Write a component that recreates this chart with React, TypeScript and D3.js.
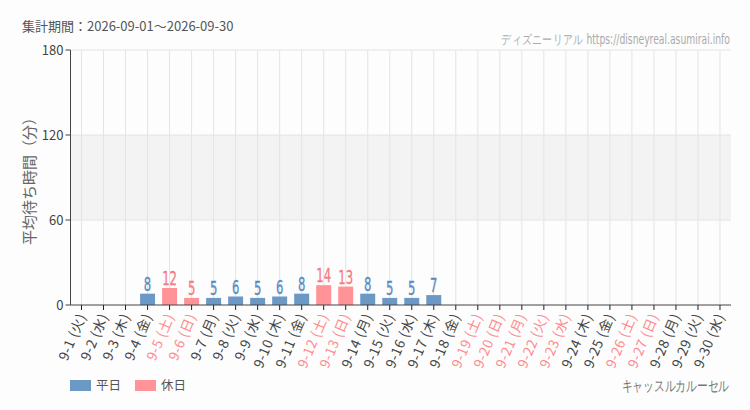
import React from "react";
import * as d3 from "d3";

const days: string[] = Array.from({ length: 30 }, (_, i) => `9-${i + 1}`);
const weekdays: string[] = ["火","水","木","金","土","日","月","火","水","木","金","土","日","月","火","水","木","金","土","日","月","火","水","木","金","土","日","月","火","水"];
const holidays: boolean[] = [false,false,false,false,true,true,false,false,false,false,false,true,true,false,false,false,false,false,true,true,true,true,true,false,false,true,true,false,false,false];
const values: (number | null)[] = [null,null,null,8,12,5,5,6,5,6,8,14,13,8,5,5,7,null,null,null,null,null,null,null,null,null,null,null,null,null];
const yTicks: number[] = [0, 60, 120, 180];

const W = 750, H = 410;
const left = 70.5, right = 731, top = 50, bottom = 305;

const BLUE = "#6c98c6";
const PINK = "#ff9398";
const BLUE_T = "#5a89c2";
const PINK_T = "#f47a80";
const JP = "'Noto Sans CJK JP', 'Noto Sans', sans-serif";
const COND = "'DejaVu Sans Condensed', 'DejaVu Sans', sans-serif";

export default function App() {
  const x = d3.scaleBand<string>().domain(days).range([left, right]).paddingInner(0.32).paddingOuter(0.16);
  const y = d3.scaleLinear().domain([0, 180]).range([bottom, top]);
  const cx = (d: string) => (x(d) as number) + x.bandwidth() / 2;

  return (
    <svg width={W} height={H} style={{ position: "absolute", left: 0, top: 0, background: "#fcfdfc" }}>
      <rect x={0} y={0} width={W} height={H} fill="#fcfdfc" />
      <text x={22} y={31} fontFamily={JP} fontSize={13} fill="#555">集計期間：2026-09-01～2026-09-30</text>
      <text transform="translate(730,44) scale(0.76,1)" textAnchor="end" fontFamily={COND} fontStretch="condensed" fontSize={13.5} fill="#aaa">ディズニーリアル https://disneyreal.asumirai.info</text>

      {/* band 60-120 */}
      <rect x={left} y={y(120)} width={right - left} height={y(60) - y(120)} fill="#f2f3f2" />
      {[60, 120, 180].map((t) => (
        <line key={t} x1={left} x2={right} y1={y(t)} y2={y(t)} stroke="#e4e4e4" strokeWidth={1} />
      ))}
      {days.map((d) => (
        <line key={d} x1={cx(d)} x2={cx(d)} y1={top} y2={bottom} stroke="#e4e4e4" strokeWidth={1} />
      ))}

      {/* bars */}
      {days.map((d, i) => {
        const v = values[i];
        if (v == null) return null;
        return (
          <g key={d}>
            <rect x={x(d)} y={y(v)} width={x.bandwidth()} height={bottom - y(v)} fill={holidays[i] ? PINK : BLUE} />
            <text transform={`translate(${cx(d)},${y(v) - 3}) scale(0.68,1)`} textAnchor="middle" fontFamily={COND} fontStretch="condensed" fontSize={19} fill={holidays[i] ? PINK_T : BLUE_T} stroke={holidays[i] ? PINK_T : BLUE_T} strokeWidth={0.3}>{v}</text>
          </g>
        );
      })}

      {/* y axis */}
      <line x1={left} x2={left} y1={top} y2={bottom} stroke="#444" strokeWidth={1} />
      {yTicks.map((t) => (
        <g key={t}>
          <line x1={left - 5} x2={left} y1={y(t)} y2={y(t)} stroke="#444" />
          <text x={left - 7} y={y(t) + 4.5} textAnchor="end" fontFamily={JP} fontSize={13} fill="#444">{t}</text>
        </g>
      ))}
      <text transform={`translate(35,${(top + bottom) / 2}) rotate(-90)`} textAnchor="middle" fontFamily={JP} fontSize={15} fill="#666">平均待ち時間（分）</text>

      {/* x axis */}
      <line x1={left} x2={right} y1={bottom} y2={bottom} stroke="#444" strokeWidth={1} />
      {days.map((d, i) => (
        <g key={d}>
          <line x1={cx(d)} x2={cx(d)} y1={bottom} y2={bottom + 5} stroke="#222" />
          <text transform={`translate(${cx(d) + 5},${bottom + 11}) rotate(-67)`} textAnchor="end" fontFamily={JP} fontSize={13.5} letterSpacing={0.6} fill={holidays[i] ? "#ff8a8f" : "#444"}>
            {d} ({weekdays[i]})
          </text>
        </g>
      ))}

      {/* legend */}
      <rect x={70} y={380} width={21} height={11} fill={BLUE} />
      <text x={96} y={390} fontFamily={JP} fontSize={12.5} fill="#555">平日</text>
      <rect x={135} y={380} width={21} height={11} fill={PINK} />
      <text x={161} y={390} fontFamily={JP} fontSize={12.5} fill="#555">休日</text>
      <text transform="translate(729,391) scale(0.72,1)" textAnchor="end" fontFamily={COND} fontStretch="condensed" fontSize={14.5} fill="#777">キャッスルカルーセル</text>
    </svg>
  );
}
